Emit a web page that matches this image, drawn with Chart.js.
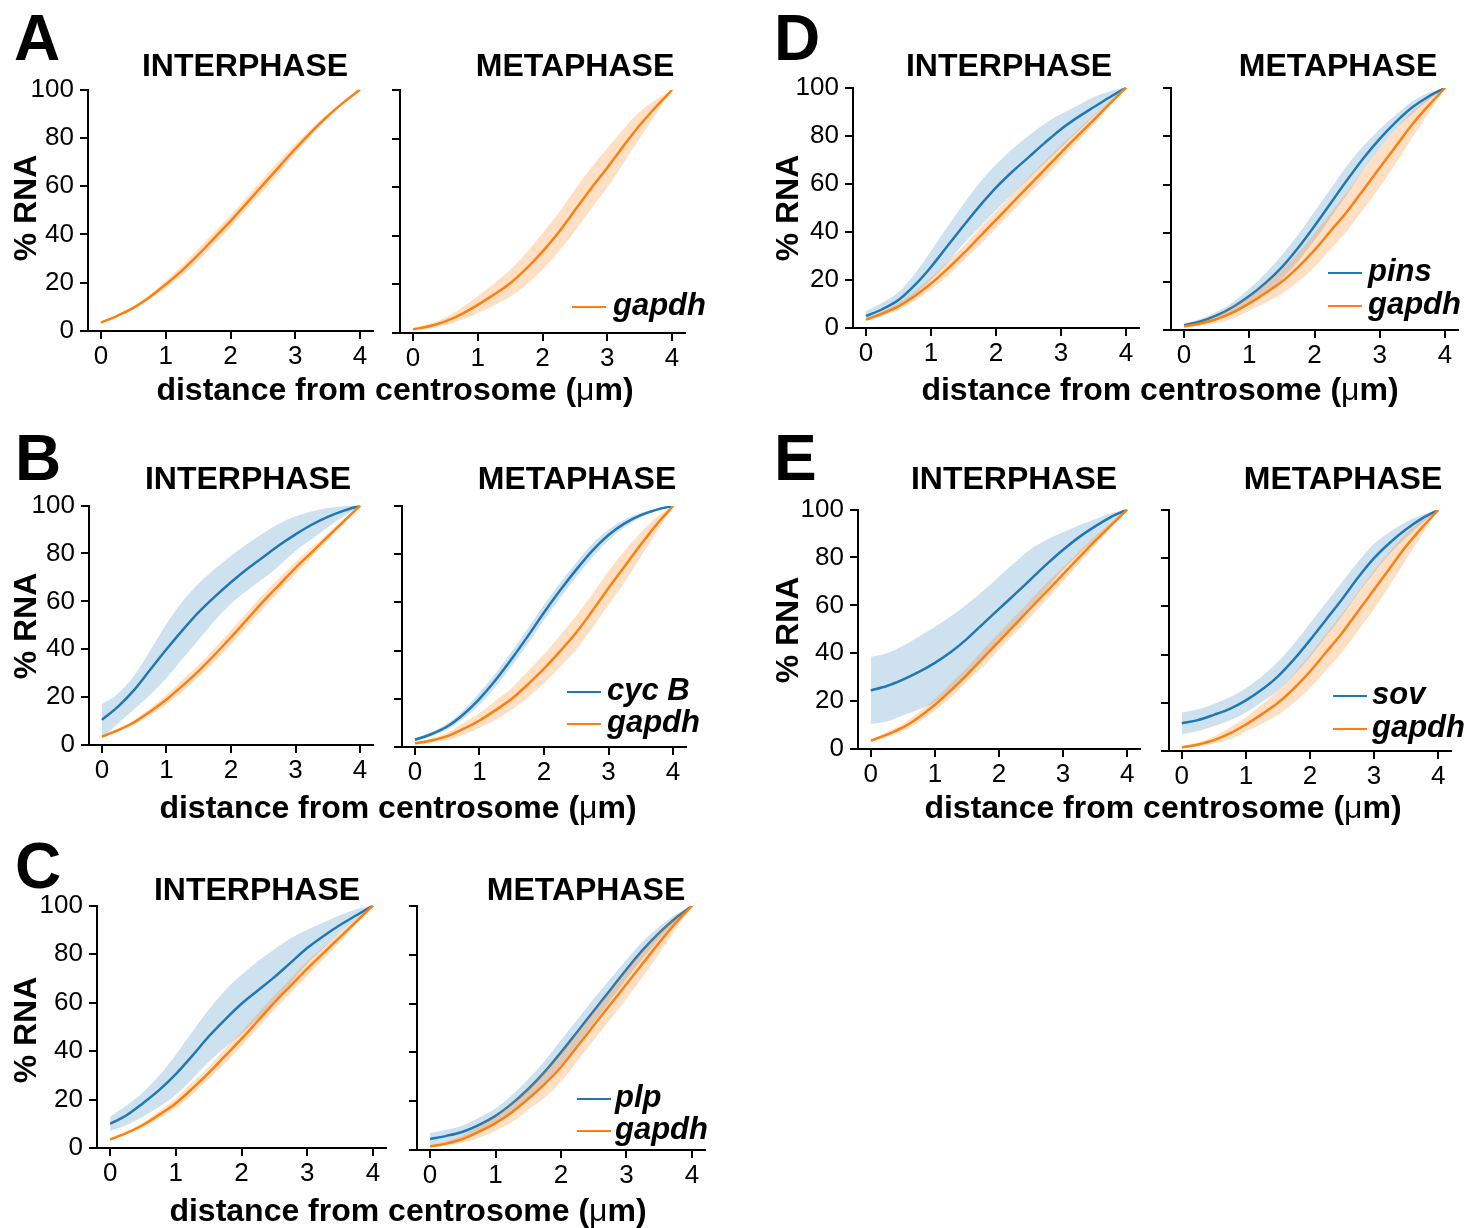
<!DOCTYPE html>
<html><head><meta charset="utf-8">
<script src="https://cdn.jsdelivr.net/npm/chart.js@4.4.1/dist/chart.umd.min.js"></script>
<style>
html,body{margin:0;padding:0;background:#fff;}
#fig{position:relative;width:1472px;height:1228px;overflow:hidden;font-family:"Liberation Sans",Arial,Helvetica,sans-serif;color:#000;background:#fff;}
.cv{position:absolute;}
.t{position:absolute;white-space:nowrap;line-height:1;transform:translate(-50%,-50%);font-weight:bold;font-size:32px;z-index:2;}
.letter{position:absolute;font-weight:bold;font-size:64px;line-height:1;z-index:2;}
.yt{position:absolute;white-space:nowrap;line-height:1;font-weight:bold;font-size:32px;transform:translate(-50%,-50%) rotate(-90deg);z-index:2;}
.leg{position:absolute;white-space:nowrap;line-height:1;font-weight:bold;font-style:italic;font-size:31px;transform:translateY(-50%);z-index:2;}
.ln{position:absolute;height:2px;z-index:2;}
.mu{font-weight:normal;}
</style></head>
<body>
<div id="fig">
  <div class="letter" style="left:14px;top:6px;">A</div>
  <div class="letter" style="left:774px;top:6px;">D</div>
  <div class="letter" style="left:15px;top:426px;">B</div>
  <div class="letter" style="left:774px;top:426px;">E</div>
  <div class="letter" style="left:15px;top:834px;">C</div>

  <div class="t" style="left:245px;top:65px;">INTERPHASE</div>
  <div class="t" style="left:575px;top:65px;">METAPHASE</div>
  <div class="t" style="left:1009px;top:65px;">INTERPHASE</div>
  <div class="t" style="left:1338px;top:65px;">METAPHASE</div>
  <div class="t" style="left:248px;top:478px;">INTERPHASE</div>
  <div class="t" style="left:577px;top:478px;">METAPHASE</div>
  <div class="t" style="left:1014px;top:478px;">INTERPHASE</div>
  <div class="t" style="left:1343px;top:478px;">METAPHASE</div>
  <div class="t" style="left:257px;top:889px;">INTERPHASE</div>
  <div class="t" style="left:586px;top:889px;">METAPHASE</div>

  <div class="yt" style="left:25px;top:208px;">% RNA</div>
  <div class="yt" style="left:787px;top:208px;">% RNA</div>
  <div class="yt" style="left:25px;top:626px;">% RNA</div>
  <div class="yt" style="left:787px;top:630px;">% RNA</div>
  <div class="yt" style="left:25px;top:1030px;">% RNA</div>

  <div class="t" style="left:395px;top:389px;">distance from centrosome (<span class="mu">μ</span>m)</div>
  <div class="t" style="left:1160px;top:389px;">distance from centrosome (<span class="mu">μ</span>m)</div>
  <div class="t" style="left:398px;top:807px;">distance from centrosome (<span class="mu">μ</span>m)</div>
  <div class="t" style="left:1163px;top:807px;">distance from centrosome (<span class="mu">μ</span>m)</div>
  <div class="t" style="left:408px;top:1210px;">distance from centrosome (<span class="mu">μ</span>m)</div>

  <!-- legends -->
  <div class="ln" style="left:572px;top:306px;width:34px;background:#ff7f0e;"></div>
  <div class="leg" style="left:613px;top:304px;">gapdh</div>

  <div class="ln" style="left:1328px;top:272px;width:34px;background:#1f77b4;"></div>
  <div class="leg" style="left:1368px;top:270px;">pins</div>
  <div class="ln" style="left:1328px;top:305px;width:34px;background:#ff7f0e;"></div>
  <div class="leg" style="left:1368px;top:303px;">gapdh</div>

  <div class="ln" style="left:567px;top:691px;width:34px;background:#1f77b4;"></div>
  <div class="leg" style="left:607px;top:689px;">cyc B</div>
  <div class="ln" style="left:567px;top:723px;width:34px;background:#ff7f0e;"></div>
  <div class="leg" style="left:607px;top:721px;">gapdh</div>

  <div class="ln" style="left:1333px;top:695px;width:34px;background:#1f77b4;"></div>
  <div class="leg" style="left:1372px;top:693px;">sov</div>
  <div class="ln" style="left:1333px;top:728px;width:34px;background:#ff7f0e;"></div>
  <div class="leg" style="left:1372px;top:726px;">gapdh</div>

  <div class="ln" style="left:577px;top:1098px;width:34px;background:#1f77b4;"></div>
  <div class="leg" style="left:615px;top:1096px;">plp</div>
  <div class="ln" style="left:577px;top:1130px;width:34px;background:#ff7f0e;"></div>
  <div class="leg" style="left:615px;top:1128px;">gapdh</div>
</div>
<script>
// ---------- data (distance in µm, % RNA) ----------
const xs = [0, 0.25, 0.5, 0.75, 1, 1.25, 1.5, 1.75, 2, 2.25, 2.5, 2.75, 3, 3.25, 3.5, 3.75, 4];
const xTicks = [0, 1, 2, 3, 4];
const yTicks = [0, 20, 40, 60, 80, 100];

// A
const A_int_gapdh    = [3.5, 6.3, 9.6, 14, 19.3, 25, 31.5, 38.5, 45.5, 53, 60.5, 68, 75.5, 82.5, 89, 94.8, 100];
const A_int_gapdh_hi = [3.5, 6.6, 10.1, 15, 20.8, 27, 34, 41, 48, 55.5, 63, 70.5, 77.5, 84, 90, 95.3, 100];
const A_int_gapdh_lo = [3.5, 6, 9.1, 13, 17.8, 23, 29, 36, 43, 50.5, 58, 65.5, 73.5, 81, 88, 94.3, 100];
const A_met_gapdh    = [1.5, 2.8, 4.8, 7.8, 11.6, 15.8, 20.5, 26.5, 33.5, 41.5, 50.5, 59.5, 68, 77, 85.5, 93, 100];
const A_met_gapdh_hi = [2, 3.8, 6.3, 10.3, 15.1, 20.3, 26, 33, 41, 49.5, 59, 68, 76, 84, 91, 96, 100];
const A_met_gapdh_lo = [1, 1.8, 3.3, 5.3, 8.1, 11.3, 15, 20, 26, 33.5, 42, 51, 60, 70, 80, 90, 100];
// B
const B_int_cycB     = [10.5, 16, 23, 31.5, 40, 48, 55.5, 62, 68, 73.5, 78.5, 83.5, 88, 92, 95.3, 97.9, 100];
const B_int_cycB_hi  = [17, 21.5, 29, 39.5, 50.5, 60, 67.5, 73.5, 79, 84, 88.5, 92.5, 95.5, 97.5, 99, 99.7, 100];
const B_int_cycB_lo  = [3, 9, 15, 21, 28, 36, 44, 52, 59, 64.5, 69.5, 75, 81, 86, 91, 95.5, 100];
const B_int_gapdh    = [3.5, 6.2, 9.5, 14, 19, 24.8, 31, 37.8, 45, 52.5, 60, 67, 74, 80.5, 87, 93.5, 100];
const B_int_gapdh_hi = [3.5, 6.7, 10.5, 15.5, 21, 27.3, 33.5, 40.6, 48, 55.5, 63, 69.8, 76.5, 82.5, 88.5, 94.5, 100];
const B_int_gapdh_lo = [3.5, 5.7, 8.5, 12.5, 17, 22.3, 28.5, 35, 42, 49.5, 57, 64.2, 71.5, 78.5, 85.5, 92.5, 100];
const B_met_cycB     = [3, 5.3, 8.5, 13.5, 20, 27.8, 36.6, 46, 55.8, 65, 73.6, 81.5, 88, 92.8, 96.2, 98.5, 100];
const B_met_cycB_hi  = [3.5, 6.1, 9.7, 15.3, 22.5, 30.6, 39.6, 49.2, 59, 68.2, 76.6, 84.3, 90.2, 94.4, 97.2, 99, 100];
const B_met_cycB_lo  = [2.5, 4.5, 7.3, 11.7, 17.5, 25, 33.6, 42.8, 52.6, 61.8, 70.6, 78.7, 85.8, 91.2, 95.2, 98, 100];
const B_met_gapdh    = [1.5, 2.7, 4.5, 7.5, 11, 15.3, 20, 26, 32.5, 39.8, 47.5, 56.5, 66, 75, 84, 92.5, 100];
const B_met_gapdh_hi = [2, 3.5, 6, 10, 14, 19.3, 24.5, 31.5, 38.5, 46.3, 54.5, 63.5, 73, 81.5, 89, 95.5, 100];
const B_met_gapdh_lo = [1, 1.9, 3, 5, 8, 11.3, 15.5, 20.5, 26.5, 33.3, 40.5, 49.5, 59, 68.5, 79, 89.5, 100];
// C
const C_int_plp      = [10, 13.5, 18.5, 24, 30.5, 38, 46, 53, 59.5, 65, 70.5, 76.5, 82.5, 87.5, 92, 96, 100];
const C_int_plp_hi   = [13, 17.5, 23, 30, 38.5, 48, 57, 65, 71.5, 77, 82, 86.5, 90, 93, 96, 98.5, 100];
const C_int_plp_lo   = [7, 9.5, 13, 17, 22, 28.5, 35.5, 41.5, 47, 53.5, 60, 68, 76, 82.5, 89, 94.5, 100];
const C_int_gapdh    = [3.5, 6.2, 9.5, 13.8, 18.5, 24.5, 31, 38, 45, 52.5, 60, 67, 74, 80.5, 87, 93.5, 100];
const C_int_gapdh_hi = [3.5, 6.7, 10.5, 15.3, 20.5, 27, 33.5, 41, 48, 55.5, 63, 70, 77, 83, 89, 94.5, 100];
const C_int_gapdh_lo = [3.5, 5.7, 8.5, 12.3, 16.5, 22, 28.5, 35, 42, 49.5, 57, 64, 71, 78, 85, 92.5, 100];
const C_met_plp      = [4.5, 5.8, 7.5, 10.3, 14, 19, 25, 32, 40, 48.5, 57, 65.5, 74, 82, 89, 95, 100];
const C_met_plp_hi   = [7, 8.3, 10, 13.3, 17, 22.5, 29, 36.5, 45, 53.5, 62, 70, 78, 85.5, 91.5, 96.5, 100];
const C_met_plp_lo   = [2, 3.3, 5, 7.3, 11, 15.5, 21, 27.5, 35, 43.5, 52, 61, 70, 78.5, 86.5, 93.5, 100];
const C_met_gapdh    = [1.5, 2.7, 4.5, 7.5, 11, 15.5, 21, 27, 34, 42.5, 51, 59.5, 68, 76.5, 85, 93, 100];
const C_met_gapdh_hi = [2, 3.5, 6, 10, 14, 19.5, 25.5, 32.5, 40, 48.5, 57, 65.5, 74, 82, 89.5, 95.5, 100];
const C_met_gapdh_lo = [1, 1.9, 3, 5, 8, 11.5, 16.5, 21.5, 28, 36.5, 45, 53.5, 62, 71, 80.5, 90.5, 100];
// D
const D_int_pins     = [5, 7.8, 11.6, 17.8, 25.4, 34, 42.5, 50.8, 58.4, 65, 71, 77, 82.7, 87.5, 91.8, 96, 100];
const D_int_pins_hi  = [7, 10.5, 15, 22.5, 32, 42, 51.5, 60.5, 68, 74.5, 80, 85, 89, 92.5, 96, 98.5, 100];
const D_int_pins_lo  = [3.5, 6, 9, 14, 20, 27, 35, 42, 49, 55.5, 62, 68.5, 75, 81.5, 88, 94, 100];
const D_int_gapdh    = [3.5, 6, 9, 13.3, 18.5, 24.5, 31, 38, 45, 52, 59, 66, 73, 79.8, 86.5, 93.3, 100];
const D_int_gapdh_hi = [4, 7, 10.5, 15.3, 21, 27.5, 34, 41.5, 48.5, 55.5, 62.5, 69.5, 76, 82.3, 88.5, 94.3, 100];
const D_int_gapdh_lo = [3, 5, 7.5, 11.3, 16, 21.5, 28, 34.5, 41.5, 48.5, 55.5, 62.5, 70, 77.3, 84.5, 92.3, 100];
const D_met_pins     = [2, 3.5, 6, 9.5, 14, 19.5, 26, 34, 43, 52.5, 62, 71, 79, 86, 92, 96.5, 100];
const D_met_pins_hi  = [2.5, 4.5, 7.5, 11.5, 17, 23.5, 31, 39.5, 49, 58.5, 68, 76, 83, 89, 94.5, 98, 100];
const D_met_pins_lo  = [1.5, 2.5, 4.5, 7.5, 11, 15.5, 21, 28.5, 37, 46.5, 56, 66, 75, 83, 89.5, 95, 100];
const D_met_gapdh    = [1.5, 2.7, 4.5, 7.3, 11, 15.3, 20, 26, 33, 41, 49, 58, 67, 76, 85, 92.8, 100];
const D_met_gapdh_hi = [2, 3.5, 6, 9.8, 14, 19.3, 25, 32, 40, 48.5, 57, 66, 75, 83, 90.5, 95.8, 100];
const D_met_gapdh_lo = [1, 1.9, 3, 4.8, 8, 11.3, 15, 20, 26, 33.5, 41, 50, 59, 69, 79.5, 89.8, 100];
// E
const E_int_sov      = [24.5, 26.3, 29, 32.2, 36, 40.5, 46, 52.3, 58.5, 64.7, 71, 77.3, 83.2, 88.5, 93, 97, 100];
const E_int_sov_hi   = [38.5, 40, 43, 47, 51, 55.5, 60.5, 66, 72, 78, 83.5, 87.5, 90.5, 93.5, 96, 98.5, 100];
const E_int_sov_lo   = [10.5, 11.5, 14, 16.5, 19.5, 25, 31, 38, 45, 52, 59, 67, 75, 81.5, 88, 94, 100];
const E_int_gapdh    = [3.5, 6, 9, 13.3, 18.5, 24.5, 31, 38, 45, 52, 59, 66, 73, 80, 87, 93.5, 100];
const E_int_gapdh_hi = [4, 7, 10.5, 15.3, 21, 27.5, 34, 41.5, 48.5, 55.5, 62.5, 69.5, 76, 82.5, 89, 94.5, 100];
const E_int_gapdh_lo = [3, 5, 7.5, 11.3, 16, 21.5, 28, 34.5, 41.5, 48.5, 55.5, 62.5, 70, 77.5, 85, 92.5, 100];
const E_met_sov      = [11.5, 12.8, 15, 17.5, 21, 25.5, 31, 38, 46, 54.5, 63, 72, 80, 86.5, 92, 96.5, 100];
const E_met_sov_hi   = [16, 17.3, 19.5, 22.3, 26, 31, 37, 44.5, 53, 61.5, 70, 78.5, 86, 91, 95, 98, 100];
const E_met_sov_lo   = [7, 8.3, 10.3, 12.8, 16, 20.3, 25, 31.5, 39, 47.5, 56, 65.5, 74, 82, 88.5, 94.5, 100];
const E_met_gapdh    = [1.5, 2.7, 4.5, 7.3, 11, 15.3, 20, 26, 33, 41, 49, 58, 67, 76, 85, 92.8, 100];
const E_met_gapdh_hi = [2, 3.5, 6, 9.8, 14, 19.3, 25, 32, 40, 48.5, 57, 66, 75, 83, 90.5, 95.8, 100];
const E_met_gapdh_lo = [1, 1.9, 3, 4.8, 8, 11.3, 15, 20, 26, 33.5, 41, 50, 59, 69, 79.5, 89.8, 100];

// ---------- styles / layout ----------
const BLUE = '#1f77b4', ORANGE = '#ff7f0e';
const BLUE_FILL = 'rgba(31,119,180,0.22)', ORANGE_FILL = 'rgba(255,127,14,0.24)';

const subplots = [
  {L:88,  R:373,  T:90,  B:333,  labels:true,  gene:null, gapdh:[A_int_gapdh, A_int_gapdh_lo, A_int_gapdh_hi]},
  {L:400, R:685,  T:90,  B:333,  labels:false, gene:null, gapdh:[A_met_gapdh, A_met_gapdh_lo, A_met_gapdh_hi]},
  {L:853, R:1139, T:88,  B:330,  labels:true,  gene:[D_int_pins, D_int_pins_lo, D_int_pins_hi], gapdh:[D_int_gapdh, D_int_gapdh_lo, D_int_gapdh_hi]},
  {L:1171,R:1458, T:88,  B:330,  labels:false, gene:[D_met_pins, D_met_pins_lo, D_met_pins_hi], gapdh:[D_met_gapdh, D_met_gapdh_lo, D_met_gapdh_hi]},
  {L:89,  R:373,  T:506, B:747,  labels:true,  gene:[B_int_cycB, B_int_cycB_lo, B_int_cycB_hi], gapdh:[B_int_gapdh, B_int_gapdh_lo, B_int_gapdh_hi]},
  {L:402, R:686,  T:506, B:747,  labels:false, gene:[B_met_cycB, B_met_cycB_lo, B_met_cycB_hi], gapdh:[B_met_gapdh, B_met_gapdh_lo, B_met_gapdh_hi]},
  {L:858, R:1140, T:510, B:751,  labels:true,  gene:[E_int_sov, E_int_sov_lo, E_int_sov_hi], gapdh:[E_int_gapdh, E_int_gapdh_lo, E_int_gapdh_hi]},
  {L:1169,R:1451, T:510, B:751,  labels:false, gene:[E_met_sov, E_met_sov_lo, E_met_sov_hi], gapdh:[E_met_gapdh, E_met_gapdh_lo, E_met_gapdh_hi]},
  {L:97,  R:386,  T:906, B:1150, labels:true,  gene:[C_int_plp, C_int_plp_lo, C_int_plp_hi], gapdh:[C_int_gapdh, C_int_gapdh_lo, C_int_gapdh_hi]},
  {L:417, R:705,  T:906, B:1150, labels:false, gene:[C_met_plp, C_met_plp_lo, C_met_plp_hi], gapdh:[C_met_gapdh, C_met_gapdh_lo, C_met_gapdh_hi]}
];

Chart.defaults.color = '#000';
Chart.defaults.font.family = '"Liberation Sans", Arial, Helvetica, sans-serif';

function pts(a) { return xs.map((x, i) => ({x: x, y: a[i]})); }
function seriesSets(s, line, fill, ord) {
  return [
    {data: pts(s[2]), borderWidth: 0, borderColor: 'rgba(0,0,0,0)', pointRadius: 0, fill: false, order: ord + 1},
    {data: pts(s[1]), borderWidth: 0, borderColor: 'rgba(0,0,0,0)', pointRadius: 0, fill: '-1', backgroundColor: fill, order: ord + 1},
    {data: pts(s[0]), borderWidth: 2.5, borderColor: line, pointRadius: 0, fill: false, order: ord}
  ];
}

const fig = document.getElementById('fig');
subplots.forEach(sp => {
  const yW = sp.labels ? 70 : 20, xH = 50, padT = 20, padR = 20;
  const W = (sp.R - sp.L) + yW + padR, H = (sp.B - sp.T) + padT + xH;
  const wrap = document.createElement('div');
  wrap.className = 'cv';
  wrap.style.left = (sp.L - yW) + 'px';
  wrap.style.top = (sp.T - padT) + 'px';
  wrap.style.width = W + 'px';
  wrap.style.height = H + 'px';
  const cv = document.createElement('canvas');
  cv.width = W; cv.height = H;
  cv.style.width = W + 'px'; cv.style.height = H + 'px';
  wrap.appendChild(cv);
  fig.insertBefore(wrap, fig.firstChild);

  let datasets = [];
  if (sp.gene) datasets = datasets.concat(seriesSets(sp.gene, BLUE, BLUE_FILL, 2));
  datasets = datasets.concat(seriesSets(sp.gapdh, ORANGE, ORANGE_FILL, 0));

  const axisCommon = {
    grid: {display: true, drawOnChartArea: false, drawTicks: true, tickLength: 8, tickColor: '#000', lineWidth: 2, color: '#000'},
    border: {display: true, color: '#000', width: 2}
  };
  const chart = new Chart(cv, {
    type: 'line',
    data: {datasets: datasets},
    options: {
      responsive: false, maintainAspectRatio: false, animation: false, devicePixelRatio: 1,
      layout: {padding: {left: 0, right: padR, top: padT, bottom: 0}},
      plugins: {legend: {display: false}, tooltip: {enabled: false}, title: {display: false}},
      elements: {line: {cubicInterpolationMode: 'monotone'}, point: {radius: 0}},
      scales: {
        x: Object.assign({}, axisCommon, {
          type: 'linear', min: -0.2, max: 4.2,
          afterBuildTicks: s => { s.ticks = xTicks.map(v => ({value: v})); },
          afterFit: s => { s.height = xH; },
          ticks: {font: {size: 26}, color: '#000', padding: 2, maxRotation: 0, autoSkip: false}
        }),
        y: Object.assign({}, axisCommon, {
          type: 'linear', min: 0, max: 100,
          afterBuildTicks: s => { s.ticks = yTicks.map(v => ({value: v})); },
          afterFit: s => { s.width = yW; },
          ticks: {display: sp.labels, font: {size: 26}, color: '#000', padding: 6}
        })
      }
    }
  });
  const ca = chart.chartArea;
  wrap.style.left = (sp.L - ca.left) + 'px';
  wrap.style.top = (sp.T - ca.top) + 'px';
});
</script>
</body></html>
